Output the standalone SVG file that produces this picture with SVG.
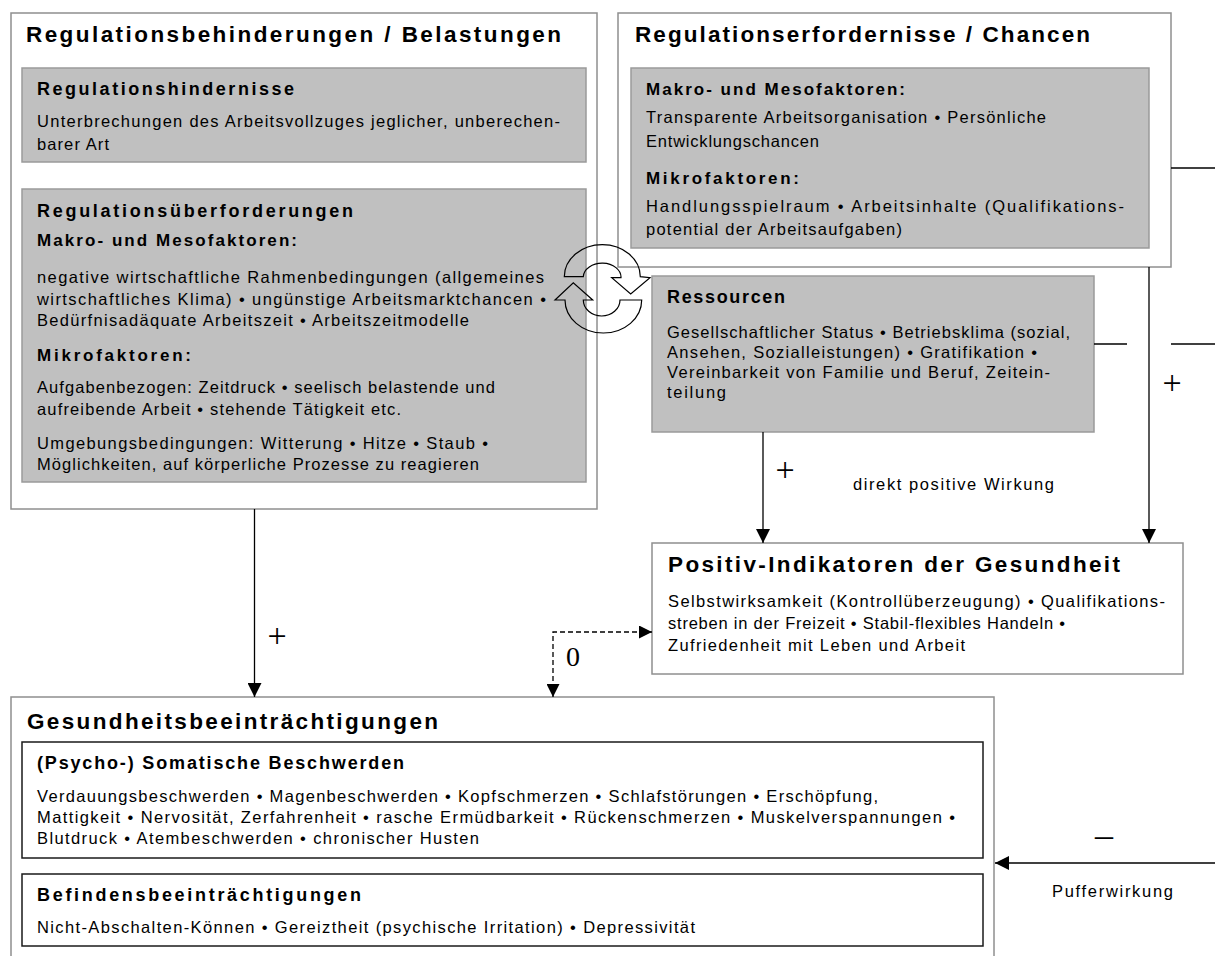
<svg xmlns="http://www.w3.org/2000/svg" width="1215" height="956" viewBox="0 0 1215 956">
<style>
.outer{fill:#fff;stroke:#8f8f8f;stroke-width:1.5}
.grey{fill:#c0c0c0;stroke:#9a9a9a;stroke-width:1.5}
.inner{fill:#fff;stroke:#1a1a1a;stroke-width:1.5}
text{font-family:"Liberation Sans",Arial,sans-serif;fill:#000}
.h1{font-size:22.5px;font-weight:bold}
.h2{font-size:18px;font-weight:bold}
.h3{font-size:17px;font-weight:bold}
.b{font-size:16.5px}
.sym{font-family:"Liberation Serif","Times New Roman",serif;text-anchor:middle}
.line{stroke:#000;stroke-width:1.3;fill:none}
.dash{stroke-dasharray:5 3}
.cyc{fill:none;stroke:#000;stroke-width:1.2;stroke-linejoin:miter}
</style>
<defs>
<marker id="ah" markerUnits="userSpaceOnUse" markerWidth="14" markerHeight="14" refX="14" refY="7" orient="auto"><path d="M0,0 L14,7 L0,14 Z" fill="#000"/></marker>
<marker id="ahs" markerUnits="userSpaceOnUse" markerWidth="13" markerHeight="13" refX="13" refY="6.5" orient="auto-start-reverse"><path d="M0,0 L13,6.5 L0,13 Z" fill="#000"/></marker>
</defs>
<rect width="1215" height="956" fill="#fff"/>

<g id="belastungen">
<rect class="outer" x="11" y="13" width="586" height="496"/>
<text class="h1" x="26" y="42" textLength="535">Regulationsbehinderungen / Belastungen</text>
<g id="hindernisse">
<rect class="grey" x="22" y="68" width="564" height="94"/>
<text class="h2" x="37" y="95" textLength="257">Regulationshindernisse</text>
<text class="b" x="37" y="127" textLength="523">Unterbrechungen des Arbeitsvollzuges jeglicher, unberechen-</text>
<text class="b" x="37" y="150" textLength="72">barer Art</text>
</g>
<g id="ueberforderungen">
<rect class="grey" x="22" y="189" width="564" height="293"/>
<text class="h2" x="37" y="217" textLength="316">Regulationsüberforderungen</text>
<text class="h3" x="37" y="246" textLength="260">Makro- und Mesofaktoren:</text>
<text class="b" x="37" y="283" textLength="507">negative wirtschaftliche Rahmenbedingungen (allgemeines</text>
<text class="b" x="37" y="305" textLength="509">wirtschaftliches Klima) • ungünstige Arbeitsmarktchancen •</text>
<text class="b" x="37" y="326" textLength="432">Bedürfnisadäquate Arbeitszeit • Arbeitszeitmodelle</text>
<text class="h3" x="37" y="361" textLength="154">Mikrofaktoren:</text>
<text class="b" x="37" y="393" textLength="458">Aufgabenbezogen: Zeitdruck • seelisch belastende und</text>
<text class="b" x="37" y="415" textLength="364">aufreibende Arbeit • stehende Tätigkeit etc.</text>
<text class="b" x="37" y="449" textLength="451">Umgebungsbedingungen: Witterung • Hitze • Staub •</text>
<text class="b" x="37" y="470" textLength="442">Möglichkeiten, auf körperliche Prozesse zu reagieren</text>
</g>
</g>

<g id="chancen">
<rect class="outer" x="618" y="13" width="553" height="254"/>
<text class="h1" x="635" y="42" textLength="455">Regulationserfordernisse / Chancen</text>
<rect class="grey" x="631" y="68" width="518" height="180"/>
<text class="h3" x="646" y="95" textLength="259">Makro- und Mesofaktoren:</text>
<text class="b" x="646" y="123" textLength="400">Transparente Arbeitsorganisation • Persönliche</text>
<text class="b" x="646" y="147" textLength="173">Entwicklungschancen</text>
<text class="h3" x="646" y="184" textLength="153">Mikrofaktoren:</text>
<text class="b" x="646" y="212" textLength="478">Handlungsspielraum • Arbeitsinhalte (Qualifikations-</text>
<text class="b" x="646" y="235" textLength="256">potential der Arbeitsaufgaben)</text>
</g>

<g id="ressourcen">
<rect class="grey" x="652" y="276" width="442" height="156"/>
<text class="h2" x="667" y="303" textLength="118">Ressourcen</text>
<text class="b" x="667" y="338" textLength="403">Gesellschaftlicher Status • Betriebsklima (sozial,</text>
<text class="b" x="667" y="358" textLength="370">Ansehen, Sozialleistungen) • Gratifikation •</text>
<text class="b" x="667" y="378" textLength="383">Vereinbarkeit von Familie und Beruf, Zeitein-</text>
<text class="b" x="667" y="398" textLength="59">teilung</text>
</g>

<g id="positiv">
<rect class="outer" x="652" y="543" width="531" height="131"/>
<text class="h1" x="668" y="572" textLength="452">Positiv-Indikatoren der Gesundheit</text>
<text class="b" x="668" y="607" textLength="497">Selbstwirksamkeit (Kontrollüberzeugung) • Qualifikations-</text>
<text class="b" x="668" y="629" textLength="397">streben in der Freizeit • Stabil-flexibles Handeln •</text>
<text class="b" x="668" y="651" textLength="297">Zufriedenheit mit Leben und Arbeit</text>
</g>

<g id="gesundheit">
<rect class="outer" x="11" y="697" width="983" height="280"/>
<text class="h1" x="27" y="729" textLength="411">Gesundheitsbeeinträchtigungen</text>
<g id="somatisch">
<rect class="inner" x="22" y="742" width="961" height="116"/>
<text class="h2" x="37" y="769" textLength="367">(Psycho-) Somatische Beschwerden</text>
<text class="b" x="37" y="802" textLength="841">Verdauungsbeschwerden • Magenbeschwerden • Kopfschmerzen • Schlafstörungen • Erschöpfung,</text>
<text class="b" x="37" y="823" textLength="918">Mattigkeit • Nervosität, Zerfahrenheit • rasche Ermüdbarkeit • Rückenschmerzen •  Muskelverspannungen •</text>
<text class="b" x="37" y="844" textLength="442">Blutdruck • Atembeschwerden • chronischer Husten</text>
</g>
<g id="befinden">
<rect class="inner" x="22" y="874" width="961" height="72"/>
<text class="h2" x="37" y="901" textLength="324">Befindensbeeinträchtigungen</text>
<text class="b" x="37" y="933" textLength="658">Nicht-Abschalten-Können • Gereiztheit (psychische Irritation) • Depressivität</text>
</g>
</g>

<g id="connectors">
<path class="line" d="M254.5,509 V697" marker-end="url(#ah)"/>
<path class="line" d="M763,432 V543" marker-end="url(#ah)"/>
<path class="line" d="M1149,267 V543" marker-end="url(#ah)"/>
<path class="line" d="M1094,344 H1127"/>
<path class="line" d="M1171,344 H1215"/>
<path class="line" d="M1171,168 H1215"/>
<path class="line" d="M1215,863 H995" marker-end="url(#ah)"/>
<path class="line dash" d="M553,697 V632 H652" marker-start="url(#ahs)" marker-end="url(#ahs)"/>
<text class="sym" x="277" y="647" font-size="34">+</text>
<text class="sym" x="785" y="481" font-size="34">+</text>
<text class="sym" x="1172" y="394" font-size="34">+</text>
<text class="sym" x="1104" y="847" font-size="36">–</text>
<text class="sym" x="573" y="666" font-size="28">0</text>
<text class="b" x="853" y="490" textLength="201">direkt positive Wirkung</text>
<text class="b" x="1052" y="897" textLength="121">Pufferwirkung</text>
</g>

<g id="wechselwirkung">
<path class="cyc" d="M564.3,276.7 A38,32 0 0 1 640.3,276.7 L650,277.7 L630.7,294 L611.7,277.7 L621,277.7 A18.85,14 0 0 0 583.3,276.7 Z"/>
<path class="cyc" d="M641.7,300 A38.35,33 0 0 1 565,300 L555,300 L573.3,282.7 L592.7,300 L583.3,300 A18.35,16 0 0 0 620,300 Z"/>
</g>
</svg>
